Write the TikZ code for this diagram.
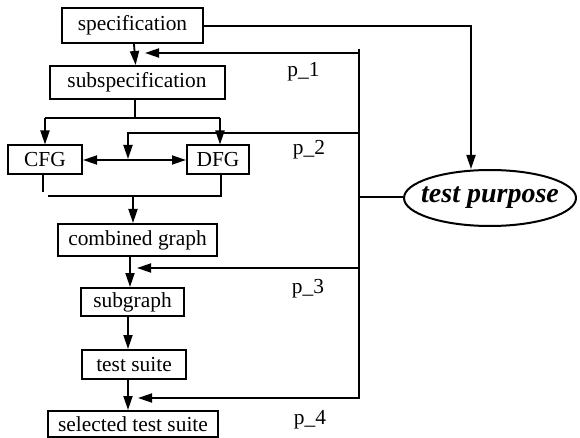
\documentclass[tikz,border=0pt]{standalone}
\usepackage{fontspec}
\setmainfont{Liberation Serif}
\usetikzlibrary{arrows.meta,shapes.geometric}
\begin{document}
\begin{tikzpicture}[x=1pt,y=-1pt,
  box/.style={draw,line width=2pt,inner sep=0pt,font=\fontsize{21.4}{24}\selectfont},
  lbl/.style={inner sep=0pt,font=\fontsize{21.4}{24}\selectfont},
  ln/.style={line width=1.8pt},
  arr/.style={ln,-{Triangle[length=14pt,width=9pt]}},
  darr/.style={ln,{Triangle[length=14pt,width=9pt]}-{Triangle[length=14pt,width=9pt]}}]
\useasboundingbox (0,0) rectangle (580,438);

% main chain of boxes
\node[box,minimum width=141pt,minimum height=35pt] (spec) at (132.5,25.5) {specification};
\node[box,minimum width=175pt,minimum height=33pt] (subspec) at (137,82.5) {subspecification};
\node[box,minimum width=74pt,minimum height=29pt] (cfg) at (45,160) {CFG};
\node[box,minimum width=62pt,minimum height=29pt] (dfg) at (218,160) {DFG};
\node[box,minimum width=159pt,minimum height=32pt] (comb) at (137.5,240) {combined graph};
\node[box,minimum width=103pt,minimum height=28pt] (subg) at (132.5,302) {subgraph};
\node[box,minimum width=104pt,minimum height=29pt] (suite) at (134,364.5) {test suite};
\node[box,minimum width=170pt,minimum height=26pt] (sel) at (133,424) {selected test suite};

% test purpose
\node[draw,ellipse,line width=2pt,minimum width=172pt,minimum height=56pt,inner sep=0pt,
      font=\fontsize{28}{30}\selectfont\bfseries\itshape] (tp) at (490,198) {\makebox[0pt]{test purpose}};

% phase labels
\node[lbl] (l1) at (303.5,72) {p\_1};
\node[lbl] (l2) at (309,150) {p\_2};
\node[lbl] (l3) at (308,289) {p\_3};
\node[lbl] (l4) at (310,420) {p\_4};

% junction points
\coordinate (sp) at (135,118);
\coordinate (spL) at (45,118);
\coordinate (spR) at (220,118);
\coordinate (mL) at (43,192);
\coordinate (mJ) at (48,196);
\coordinate (mR) at (221,196);
\coordinate (mC) at (133,196);
\coordinate (a1) at (130,0);
\coordinate (a2) at (128,0);
\coordinate (fbtop) at (359,49);
\coordinate (fb1) at (359,53);
\coordinate (fb2) at (359,133);
\coordinate (fbtp) at (359,197);
\coordinate (fb3) at (359,268);
\coordinate (fb4) at (359,398);
\coordinate (t1) at (145,53);
\coordinate (p2a) at (128,133);
\coordinate (p2t) at (128,159);
\coordinate (t3) at (137,268);
\coordinate (t4) at (138,398);
\coordinate (tpk) at (471,26);

% flow
\draw[arr] (spec) -- (subspec);
\draw[ln] (subspec.south -| sp) -- (sp);
\draw[ln] (spL) -- (spR);
\draw[arr] (spL) -- (cfg.north -| spL);
\draw[arr] (spR) -- (dfg.north -| spR);
\draw[darr] (cfg) -- (dfg);
\draw[ln] (cfg.south -| mL) -- (mL);
\draw[ln] (mJ) -- (mR) -- (dfg.south -| mR);
\draw[arr] (mC) -- (comb.north -| mC);
\draw[arr] (comb.south -| a1) -- (subg.north -| a1);
\draw[arr] (subg.south -| a2) -- (suite.north -| a2);
\draw[arr] (suite.south -| a2) -- (sel.north -| a2);

% feedback from test purpose
\draw[arr] (fbtop) -- (fb4) -- (t4);
\draw[arr] (fb1) -- (t1);
\draw[arr] (fb2) -- (p2a) -- (p2t);
\draw[arr] (fb3) -- (t3);
\draw[ln] (fbtp) -- (fbtp -| tp.west);
\draw[arr] (spec.east |- tpk) -- (tpk) -- (tpk |- tp.north);
\end{tikzpicture}
\end{document}
